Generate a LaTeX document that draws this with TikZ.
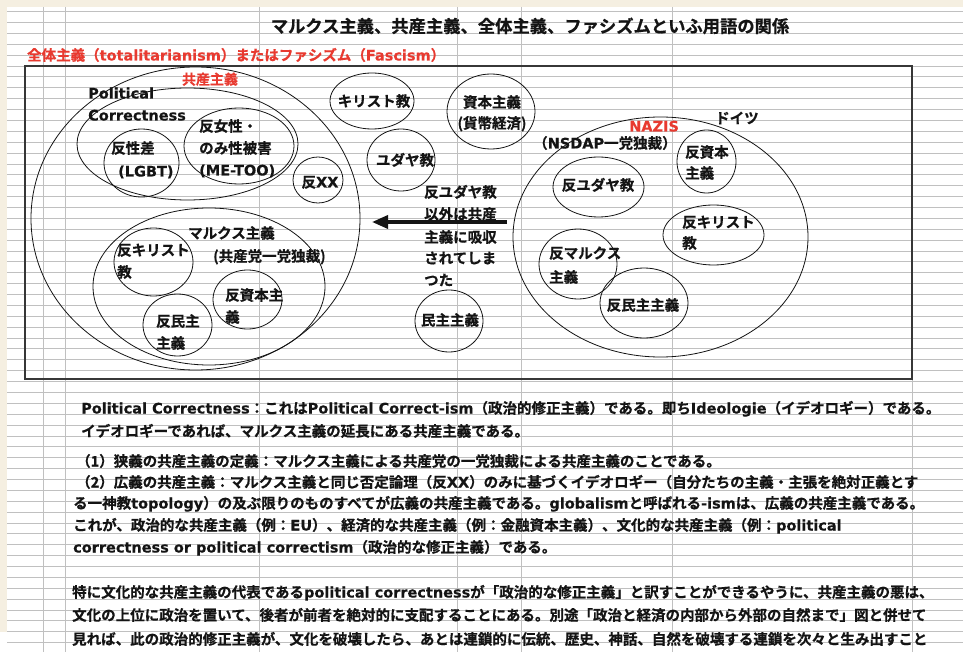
\documentclass[tikz,border=0pt]{standalone}
\usepackage{fontspec}
\setmainfont{Noto Sans CJK JP}[BoldFont={Noto Sans CJK JP Bold}, BoldFeatures={FakeBold=0.6}]
\newfontfamily\latfont{DejaVu Sans}[BoldFeatures={FakeBold=0.3}]
\newcommand\latn[1]{{\latfont\bfseries #1}}
\usetikzlibrary{shapes.geometric,arrows.meta}
\definecolor{gridc}{RGB}{192,192,192}
\definecolor{redt}{RGB}{232,58,48}
\definecolor{beige}{RGB}{245,239,225}
\definecolor{ink}{RGB}{20,20,20}
\begin{document}
\begin{tikzpicture}[x=1pt,y=-1pt,
  ell/.style={draw=ink, line width=0.8pt, ellipse, inner sep=0pt},
  lbl/.style={font=\fontsize{14.5}{14.5}\selectfont\bfseries, text=ink, inner sep=0pt, text height=13pt, text depth=2pt},
  lw/.style={lbl, anchor=west},
  redl/.style={lbl, text=redt},
  gridl/.style={draw=gridc, line width=1pt}]
\useasboundingbox (0,0) rectangle (963,652);
\fill[white] (0,0) rectangle (963,652);
\fill[beige] (0,0) rectangle (963,7);
\fill[beige] (0,0) rectangle (7,632);
% grid
\foreach \k in {0,...,58} \draw[gridl] (7,{11.7+10.88*\k}) -- (963,{11.7+10.88*\k});
\foreach \xx in {43.3,65.7,259,457.7,521.7,672} \draw[gridl] (\xx,7) -- (\xx,652);
\draw[gridl] (912,379) -- (912,652);
% title
\node[lbl, font=\fontsize{17.3}{17.3}\selectfont\bfseries, text height=15.2pt, text depth=2pt] (title) at (530,26) {マルクス主義、共産主義、全体主義、ファシズムといふ用語の関係};
\node[redl, anchor=west] (sub) at (27,55) {全体主義（\latn{totalitarianism}）またはファシズム（\latn{Fascism}）};
% frame
\draw[draw=ink!85, line width=1.1pt] (25,66) rectangle (912,379);
% ellipses
\node[ell, minimum width=329pt, minimum height=303pt] (Ecom) at (195.5,218.5) {};
\node[ell, minimum width=221pt, minimum height=112pt] (Epc) at (187.5,144) {};
\node[ell, minimum width=75pt, minimum height=68pt] (Elgbt) at (141.5,163) {};
\node[ell, minimum width=110pt, minimum height=76pt] (Emetoo) at (239,146) {};
\node[ell, minimum width=50pt, minimum height=46pt] (Exx) at (318,180) {};
\node[ell, minimum width=84pt, minimum height=56pt] (Echr) at (372,101) {};
\node[ell, minimum width=68pt, minimum height=62pt] (Ejew) at (401,160) {};
\node[ell, minimum width=88pt, minimum height=75pt] (Ecap) at (491,111.5) {};
\node[ell, minimum width=68pt, minimum height=62pt] (Edem) at (449,321) {};
\node[ell, minimum width=232pt, minimum height=157pt] (Emarx) at (209,286.5) {};
\node[ell, minimum width=79pt, minimum height=68pt] (EachL) at (153.5,262) {};
\node[ell, minimum width=69pt, minimum height=62pt] (EadL) at (177.5,325) {};
\node[ell, minimum width=69pt, minimum height=59pt] (EacL) at (247.5,299.5) {};
\node[ell, minimum width=295pt, minimum height=240pt] (Enaz) at (660.5,237) {};
\node[ell, minimum width=59pt, minimum height=63pt] (EacR) at (706.5,161.5) {};
\node[ell, minimum width=91pt, minimum height=60pt] (EajR) at (598.5,187) {};
\node[ell, minimum width=101pt, minimum height=60pt] (EachR) at (713.5,235) {};
\node[ell, minimum width=78pt, minimum height=70pt] (EamR) at (578,264) {};
\node[ell, minimum width=88pt, minimum height=70pt] (EadR) at (644,303) {};
% labels left
\node[redl, font=\fontsize{14}{14}\selectfont\bfseries] (tcom) at (210,79) {共産主義};
\node[lw] (tpc1) at (88,93) {\latn{Political}};
\node[lw] (tpc2) at (88,115) {\latn{Correctness}};
\node[lw] (tlg1) at (111,148) {反性差};
\node[lw] (tlg2) at (118,171) {\latn{(LGBT)}};
\node[lw] (tmt1) at (199,126) {反女性・};
\node[lw] (tmt2) at (199,148) {のみ性被害};
\node[lw] (tmt3) at (199,170) {\latn{(ME-TOO)}};
\node[lbl] (txx) at (320,182) {反\latn{XX}};
\node[lbl] (tchr) at (374,101) {キリスト教};
\node[lbl] (tjew) at (405,160) {ユダヤ教};
\node[lbl] (tcap1) at (492,102) {資本主義};
\node[lbl] (tcap2) at (492,123) {(貨幣経済)};
\node[lw] (tmid1) at (424,192) {反ユダヤ教};
\node[lw] (tmid2) at (424,214) {以外は共産};
\node[lw] (tmid3) at (424,237) {主義に吸収};
\node[lw] (tmid4) at (424,258) {されてしま};
\node[lw] (tmid5) at (424,280) {つた};
\node[lbl] (tdem) at (450,320) {民主主義};
\node[lw] (tmx1) at (188,233) {マルクス主義};
\node[lw] (tmx2) at (213,256) {(共産党一党独裁)};
\node[lw] (tachL1) at (117,250) {反キリスト};
\node[lw] (tachL2) at (117,272) {教};
\node[lw] (tadL1) at (156,321) {反民主};
\node[lw] (tadL2) at (156,343) {主義};
\node[lw] (tacL1) at (225,295) {反資本主};
\node[lw] (tacL2) at (225,317) {義};
% labels right
\node[redl, anchor=west] (tnaz) at (629,126) {\latn{NAZIS}};
\node[lw] (tger) at (715,118) {ドイツ};
\node[lw] (tnsdap) at (533,143) {（\latn{NSDAP}一党独裁）};
\node[lw] (tacR1) at (685,152) {反資本};
\node[lw] (tacR2) at (685,173) {主義};
\node[lbl] (tajR) at (598,185) {反ユダヤ教};
\node[lw] (tachR1) at (682,222) {反キリスト};
\node[lw] (tachR2) at (682,243) {教};
\node[lw] (tamR1) at (549,253) {反マルクス};
\node[lw] (tamR2) at (549,277) {主義};
\node[lbl] (tadR) at (643,305) {反民主主義};
% arrow
\coordinate (arS) at (507,222);
\coordinate (arE) at (372,222);
\draw[ink, line width=3.5pt, -{Triangle[length=16pt,width=13pt]}] (arS) -- (arE);
% body text
\node[lw] (b1) at (81,408) {\latn{Political Correctness}：これは\latn{Political Correct-ism}（政治的修正主義）である。即ち\latn{Ideologie}（イデオロギー）である。};
\node[lw] (b2) at (81,431) {イデオロギーであれば、マルクス主義の延長にある共産主義である。};
\node[lw] (b3) at (76,461) {（1）狭義の共産主義の定義：マルクス主義による共産党の一党独裁による共産主義のことである。};
\node[lw] (b4) at (76,482) {（2）広義の共産主義：マルクス主義と同じ否定論理（反\latn{XX}）のみに基づくイデオロギー（自分たちの主義・主張を絶対正義とす};
\node[lw] (b5) at (73,503) {る一神教\latn{topology}）の及ぶ限りのものすべてが広義の共産主義である。\latn{globalism}と呼ばれる\latn{-ism}は、広義の共産主義である。};
\node[lw] (b6) at (73,525) {これが、政治的な共産主義（例：\latn{EU}）、経済的な共産主義（例：金融資本主義）、文化的な共産主義（例：\latn{political}};
\node[lw] (b7) at (73,547) {\latn{correctness or political correctism}（政治的な修正主義）である。};
\node[lw] (b8) at (72,592) {特に文化的な共産主義の代表である\latn{political correctness}が「政治的な修正主義」と訳すことができるやうに、共産主義の悪は、};
\node[lw] (b9) at (72,615) {文化の上位に政治を置いて、後者が前者を絶対的に支配することにある。別途「政治と経済の内部から外部の自然まで」図と併せて};
\node[lw] (b10) at (72,639) {見れば、此の政治的修正主義が、文化を破壊したら、あとは連鎖的に伝統、歴史、神話、自然を破壊する連鎖を次々と生み出すこと};
\end{tikzpicture}
\end{document}
